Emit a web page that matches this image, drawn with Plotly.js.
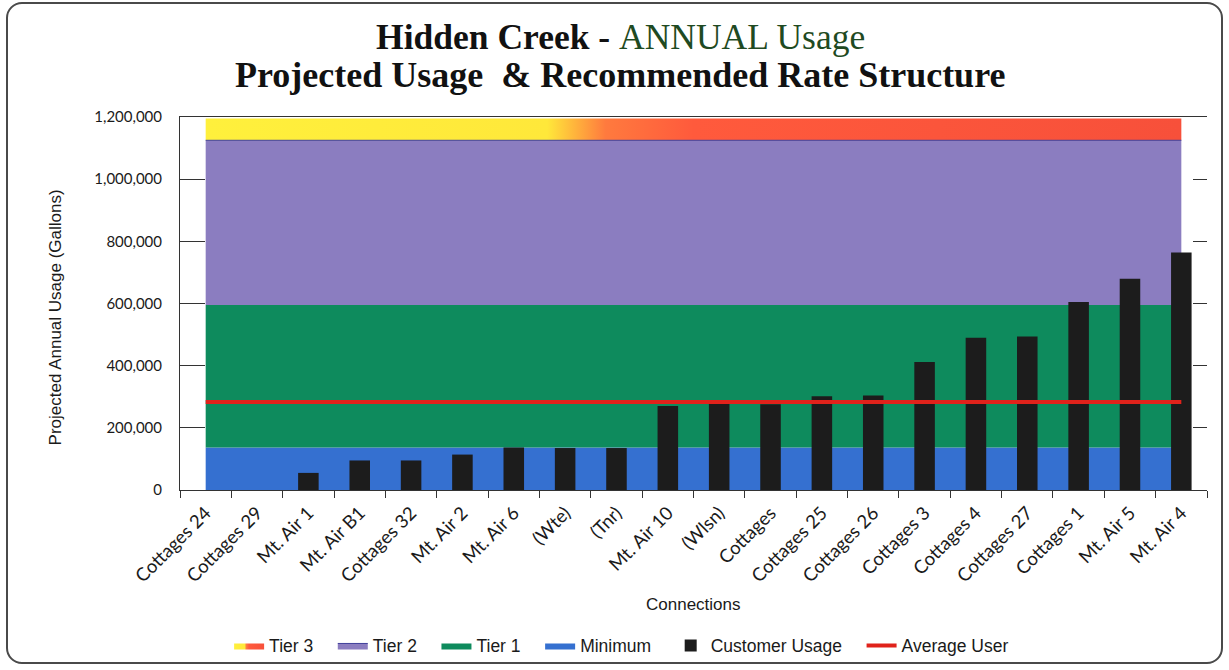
<!DOCTYPE html>
<html>
<head>
<meta charset="utf-8">
<script src="https://cdn.plot.ly/plotly-3.0.1.min.js"></script>
<style>
  html, body { margin: 0; padding: 0; background: #ffffff; }
  #wrap { position: relative; width: 1229px; height: 670px; }
  #chart { width: 1229px; height: 670px; }
  #frame { position: absolute; left: 6px; top: 2px; width: 1217px; height: 662px;
           border: 2px solid #4a4a4a; border-radius: 16px; pointer-events: none; box-sizing: border-box; }
</style>
</head>
<body>
<div id="wrap">
  <div id="chart"></div>
  <div id="frame"></div>
</div>
<script>
// ---- Data ----
const connections = ["Cottages 24","Cottages 29","Mt. Air 1","Mt. Air B1","Cottages 32","Mt. Air 2","Mt. Air 6","(Wte)","(Tnr)","Mt. Air 10","(Wlsn)","Cottages","Cottages 25","Cottages 26","Cottages 3","Cottages 4","Cottages 27","Cottages 1","Mt. Air 5","Mt. Air 4"];
const customerUsage = [0, 0, 55000, 95000, 95000, 114000, 137000, 135000, 135000, 270000, 279000, 276000, 302000, 304000, 412000, 490000, 494000, 605000, 680000, 764000];
const minimumBand = [137000,137000,137000,137000,137000,137000,137000,137000,137000,137000,137000,137000,137000,137000,137000,137000,137000,137000,137000,137000];
const tier1Band   = [458000,458000,458000,458000,458000,458000,458000,458000,458000,458000,458000,458000,458000,458000,458000,458000,458000,458000,458000,458000];
const tier2Band   = [530000,530000,530000,530000,530000,530000,530000,530000,530000,530000,530000,530000,530000,530000,530000,530000,530000,530000,530000,530000];
const tier3Band   = [70000,70000,70000,70000,70000,70000,70000,70000,70000,70000,70000,70000,70000,70000,70000,70000,70000,70000,70000,70000];
const averageUser = [283000,283000,283000,283000,283000,283000,283000,283000,283000,283000,283000,283000,283000,283000,283000,283000,283000,283000,283000,283000];
const yTickVals = [0, 200000, 400000, 600000, 800000, 1000000, 1200000];
const legendNames = ["Minimum", "Tier 1", "Tier 2", "Tier 3", "Customer Usage", "Average User"];

const arial = "'Liberation Sans', Arial, sans-serif";
const serif = "'Liberation Serif', 'Times New Roman', serif";
const gap = "&nbsp;&nbsp;&nbsp;";

const traces = [
  {name: legendNames[0] + gap, x: connections, y: minimumBand, type: "scatter", mode: "lines",
   stackgroup: "rate", line: {width: 0, color: "#3570d0"}, fillcolor: "#3570d0", legendrank: 4, hoverinfo: "skip"},
  {name: legendNames[1] + gap, x: connections, y: tier1Band, type: "scatter", mode: "lines",
   stackgroup: "rate", line: {width: 0, color: "#0e8b5d"}, fillcolor: "#0e8b5d", legendrank: 3, hoverinfo: "skip"},
  {name: legendNames[2] + gap, x: connections, y: tier2Band, type: "scatter", mode: "lines",
   stackgroup: "rate", line: {width: 1, color: "#3f3f9a"}, fillcolor: "#8b7dc0", legendrank: 2, hoverinfo: "skip"},
  {name: legendNames[3] + gap, x: connections, y: tier3Band, type: "scatter", mode: "lines",
   stackgroup: "rate", line: {width: 0, color: "#f5553c"},
   fillgradient: {type: "horizontal",
     colorscale: [[0, "#fff03c"], [0.35, "#ffe83a"], [0.41, "#ff7a3e"], [0.5, "#ff5a3c"], [1, "#f7503a"]]},
   legendrank: 1, hoverinfo: "skip"},
  {name: legendNames[4] + gap, x: connections, y: customerUsage, type: "bar", width: 0.4,
   marker: {color: "#1c1c1c"}, xaxis: "x2", yaxis: "y2", legendrank: 5},
  {name: legendNames[5], x: connections, y: averageUser, type: "scatter", mode: "lines",
   line: {color: "#e0221b", width: 4}, xaxis: "x2", yaxis: "y2", legendrank: 6}
];

const layout = {
  width: 1229, height: 670,
  margin: {l: 180, r: 22, t: 117, b: 180, autoexpand: false},
  paper_bgcolor: "rgba(0,0,0,0)", plot_bgcolor: "rgba(0,0,0,0)",
  showlegend: true,
  title: {
    text: "<b>Hidden Creek - </b><span style='color:#1f4a22'>ANNUAL Usage</span>",
    font: {family: serif, size: 35.5, color: "#111"},
    xref: "container", x: 0.505, xanchor: "center",
    yref: "container", y: 1 - 37/670, yanchor: "middle"
  },
  annotations: [
    {text: "<b>Projected Usage&nbsp;&nbsp;&amp; Recommended Rate Structure</b>",
     font: {family: serif, size: 36, color: "#111"},
     xref: "paper", x: 0.428, xanchor: "center",
     yref: "paper", y: (490 - 74) / 374, yanchor: "middle", showarrow: false},
    {text: "Projected Annual Usage (Gallons)", textangle: -90,
     font: {family: arial, size: 17, color: "#1a1a1a"},
     xref: "paper", x: (55 - 180) / 1027, xanchor: "center",
     yref: "paper", y: (490 - 317) / 374, yanchor: "middle", showarrow: false},
    {text: "Connections",
     font: {family: arial, size: 17, color: "#1a1a1a"},
     xref: "paper", x: 0.5, xanchor: "center",
     yref: "paper", y: (490 - 605) / 374, yanchor: "middle", showarrow: false}
  ],
  xaxis: {
    type: "category", range: [-0.5, 19.5],
    showline: true, linecolor: "#333", linewidth: 1, mirror: true,
    ticks: "outside", tickson: "boundaries", ticklen: 7, tickcolor: "#333",
    tickangle: -45, ticklabelstandoff: 4,
    tickfont: {family: "Lato, 'Open Sans', sans-serif", size: 18.5, color: "#1a1a1a"},
    showgrid: false, zeroline: false
  },
  yaxis: {
    range: [0, 1200000], tickvals: yTickVals, tickformat: ",d",
    showline: true, linecolor: "#333", linewidth: 1,
    ticks: "inside", ticklen: 25, tickcolor: "#333", layer: "below traces",
    ticklabelstandoff: 14, tickfont: {family: "Lato, 'Open Sans', sans-serif", size: 15, color: "#1a1a1a"},
    showgrid: false, zeroline: false
  },
  xaxis2: {type: "category", range: [-0.5, 19.5], overlaying: "x", visible: false},
  yaxis2: {
    range: [0, 1200000], tickvals: yTickVals, overlaying: "y", side: "right",
    showticklabels: false, showline: false, showgrid: false, zeroline: false,
    ticks: "inside", ticklen: 14, tickcolor: "#333"
  },
  legend: {
    orientation: "h", traceorder: "normal", x: 0.43, xanchor: "center", y: (490 - 646) / 374, yanchor: "middle",
    font: {family: arial, size: 17.5, color: "#1a1a1a"}, itemwidth: 30
  },
  bargap: 0.6
};

Plotly.newPlot("chart", traces, layout, {displayModeBar: false, staticPlot: true});
</script>
</body>
</html>
